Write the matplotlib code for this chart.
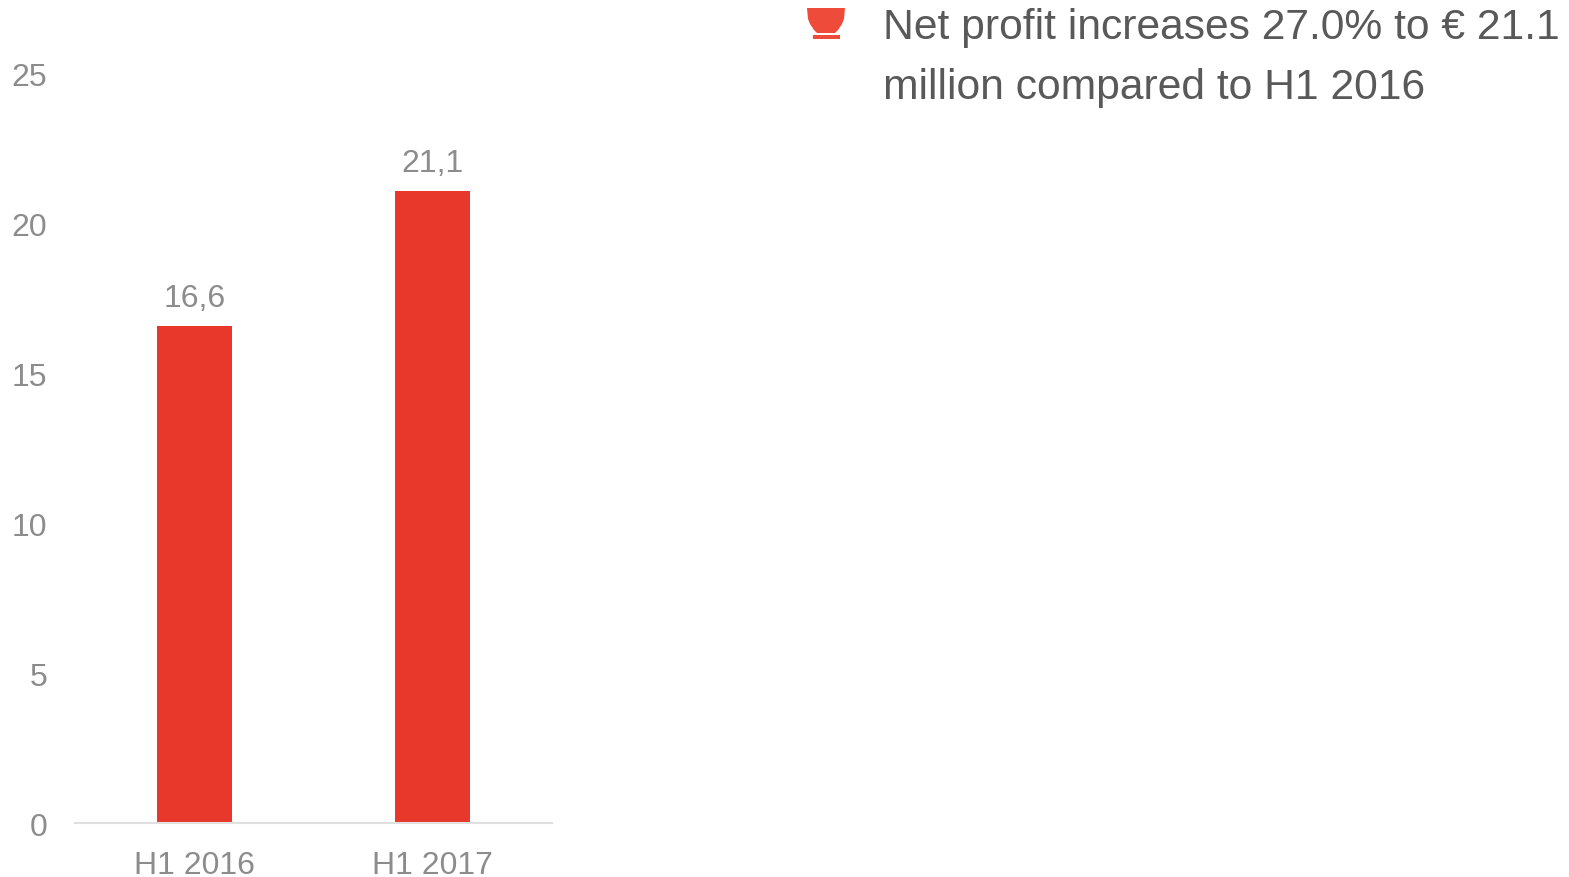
import matplotlib
matplotlib.use("Agg")
import matplotlib.pyplot as plt
from matplotlib.patches import Polygon, Rectangle

periods = ["H1 2016", "H1 2017"]
net_profit = [16.6, 21.1]
value_labels = ["16,6", "21,1"]
y_ticks = [0, 5, 10, 15, 20, 25]
note_lines = ["Net profit increases 27.0% to € 21.1", "million compared to H1 2016"]

W, H = 1569, 878
grey = "#8c8c8c"
red = "#e8372b"

plt.rcParams["font.family"] = "Liberation Sans"

fig = plt.figure(figsize=(W / 100, H / 100), dpi=100)
ax = fig.add_axes([75 / W, 1 - 824.3 / H, 477 / W, 749.5 / H])

ax.bar(range(2), net_profit, width=0.314, color=red)
ax.set_xlim(-0.5, 1.5)
ax.set_ylim(0, 25)
ax.set_xticks(range(2), periods)
ax.set_yticks(y_ticks)
ax.tick_params(length=0, labelsize=23, labelcolor=grey)
ax.tick_params(axis="x", pad=19)
ax.tick_params(axis="y", pad=20)

for side in ["top", "left", "right"]:
    ax.spines[side].set_visible(False)
ax.spines["bottom"].set_color("#e0e0e0")
ax.spines["bottom"].set_linewidth(1.5)

for i, v in enumerate(net_profit):
    ax.annotate(value_labels[i], (i, v), xytext=(0, 9), textcoords="offset points",
                ha="center", va="bottom", fontsize=23, color=grey)

# bullet and note on the right
bullet = "#ee4b3a"
cup = [[807, 9], [845, 9], [844, 20], [842, 25], [838, 31], [835, 34],
       [817, 34], [814, 31], [810, 25], [808, 20]]
fig.add_artist(Polygon([[x / W, 1 - y / H] for x, y in cup],
                       closed=True, color=bullet, lw=0, transform=fig.transFigure))
fig.add_artist(Rectangle((813 / W, 1 - 40 / H), 27 / W, 4 / H, color=bullet, lw=0, transform=fig.transFigure))

fig.text(883 / W, 1 - 28 / H, note_lines[0], fontsize=30.7, color="#595959", va="center")
fig.text(883 / W, 1 - 88.5 / H, note_lines[1], fontsize=30.7, color="#595959", va="center")

fig.savefig("out.png", dpi=100)
